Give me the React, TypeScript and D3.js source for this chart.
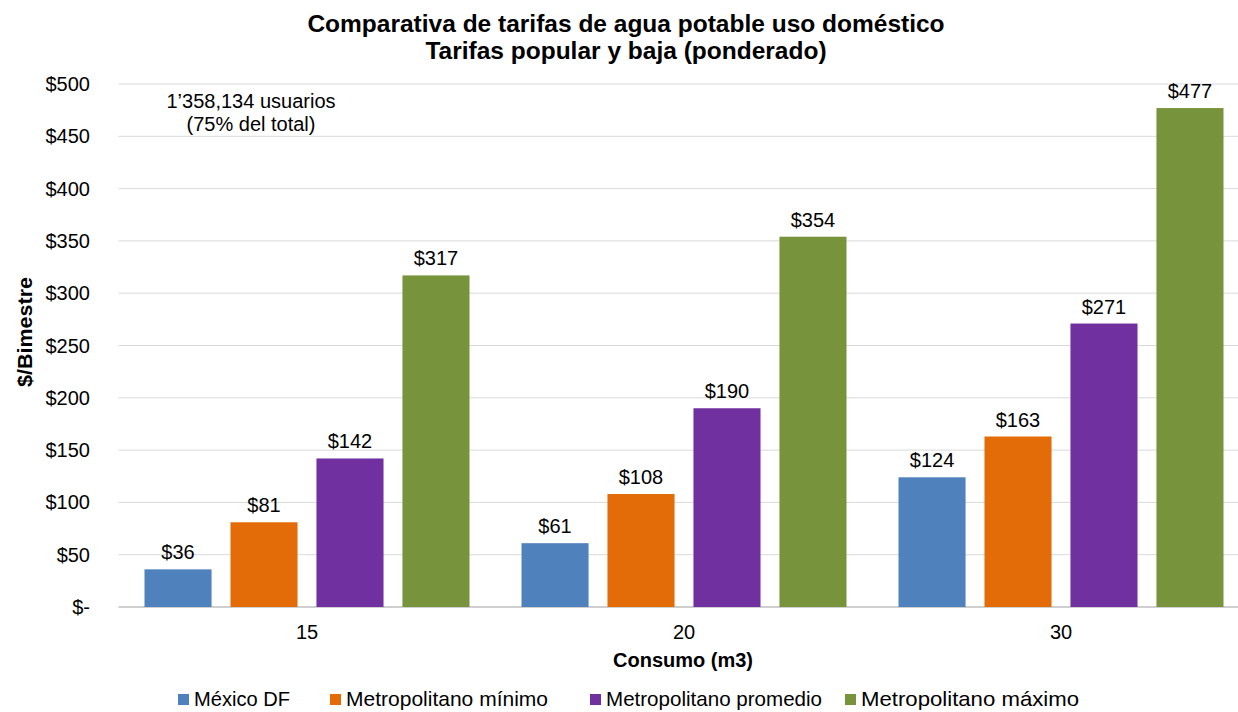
import React from "react";
import * as d3 from "d3";

const categories = ["15", "20", "30"];
const seriesNames = ["México DF", "Metropolitano mínimo", "Metropolitano promedio", "Metropolitano máximo"];
const mexicoDF = [36, 61, 124];
const metroMin = [81, 108, 163];
const metroProm = [142, 190, 271];
const metroMax = [317, 354, 477];
const yTicks = [0, 50, 100, 150, 200, 250, 300, 350, 400, 450, 500];
const colors = ["#4F81BD", "#E36C09", "#7030A0", "#77933C"];

const W = 1238, H = 712;
const plotLeft = 118.5, plotRight = 1249.5, plotTop = 84, plotBottom = 607;

export default function App() {
  const series = [mexicoDF, metroMin, metroProm, metroMax];
  const x0 = d3.scaleBand<string>().domain(categories).range([plotLeft, plotRight]).padding(0);
  const step = x0.bandwidth();
  const x1 = d3.scaleBand<string>().domain(seriesNames).range([26, step - 26]).paddingInner(0.22).paddingOuter(0);
  const y = d3.scaleLinear().domain([0, 500]).range([plotBottom, plotTop]);
  const font = "'Liberation Sans', Arial, sans-serif";
  const legendX = [178, 330, 590, 845];
  const legendLen = [96, 202, 216, 218];
  const fmt = (v: number) => (v === 0 ? "$-" : "$" + v);
  return (
    <svg width={W} height={H} style={{ position: "absolute", left: 0, top: 0, background: "#fff" }}>
      <rect width={W} height={H} fill="#fff" />
      <text x={626} y={32} textAnchor="middle" fontFamily={font} fontWeight="bold" fontSize={24.5} fill="#000">
        Comparativa de tarifas de agua potable uso doméstico
      </text>
      <text x={626} y={59} textAnchor="middle" fontFamily={font} fontWeight="bold" fontSize={24.5} fill="#000">
        Tarifas popular y baja (ponderado)
      </text>
      {yTicks.map((t) => (
        <g key={t}>
          <line x1={plotLeft} x2={1238} y1={y(t)} y2={y(t)} stroke={t === 0 ? "#BFBFBF" : "#D9D9D9"} strokeWidth={t === 0 ? 1.5 : 1} />
          <text x={90} y={y(t) + 7} textAnchor="end" fontFamily={font} fontSize={20} fill="#000">{fmt(t)}</text>
        </g>
      ))}
      <text transform={`translate(32,${332}) rotate(-90)`} textAnchor="middle" fontFamily={font} fontWeight="bold" fontSize={21} fill="#000" textLength={110} lengthAdjust="spacingAndGlyphs">
        $/Bimestre
      </text>
      {categories.map((c, ci) => (
        <g key={c}>
          {series.map((s, si) => {
            const bx = (x0(c) as number) + (x1(seriesNames[si]) as number);
            const bw = x1.bandwidth();
            return (
              <g key={si}>
                <rect x={bx} y={y(s[ci])} width={bw} height={plotBottom - y(s[ci])} fill={colors[si]} />
                <text x={bx + bw / 2} y={y(s[ci]) - 10} textAnchor="middle" fontFamily={font} fontSize={20} fill="#000">
                  {"$" + s[ci]}
                </text>
              </g>
            );
          })}
          <text x={(x0(c) as number) + step / 2} y={639} textAnchor="middle" fontFamily={font} fontSize={20} fill="#000">{c}</text>
        </g>
      ))}
      <text x={251} y={108} textAnchor="middle" fontFamily={font} fontSize={20} fill="#000">1’358,134 usuarios</text>
      <text x={251} y={131} textAnchor="middle" fontFamily={font} fontSize={20} fill="#000">(75% del total)</text>
      <text x={683} y={667} textAnchor="middle" fontFamily={font} fontWeight="bold" fontSize={20} fill="#000">Consumo (m3)</text>
      {seriesNames.map((n, i) => (
        <g key={n}>
          <rect x={legendX[i]} y={694} width={11} height={11} fill={colors[i]} />
          <text x={legendX[i] + 16} y={706} fontFamily={font} fontSize={21} fill="#000" textLength={legendLen[i]} lengthAdjust="spacingAndGlyphs">{n}</text>
        </g>
      ))}
    </svg>
  );
}
